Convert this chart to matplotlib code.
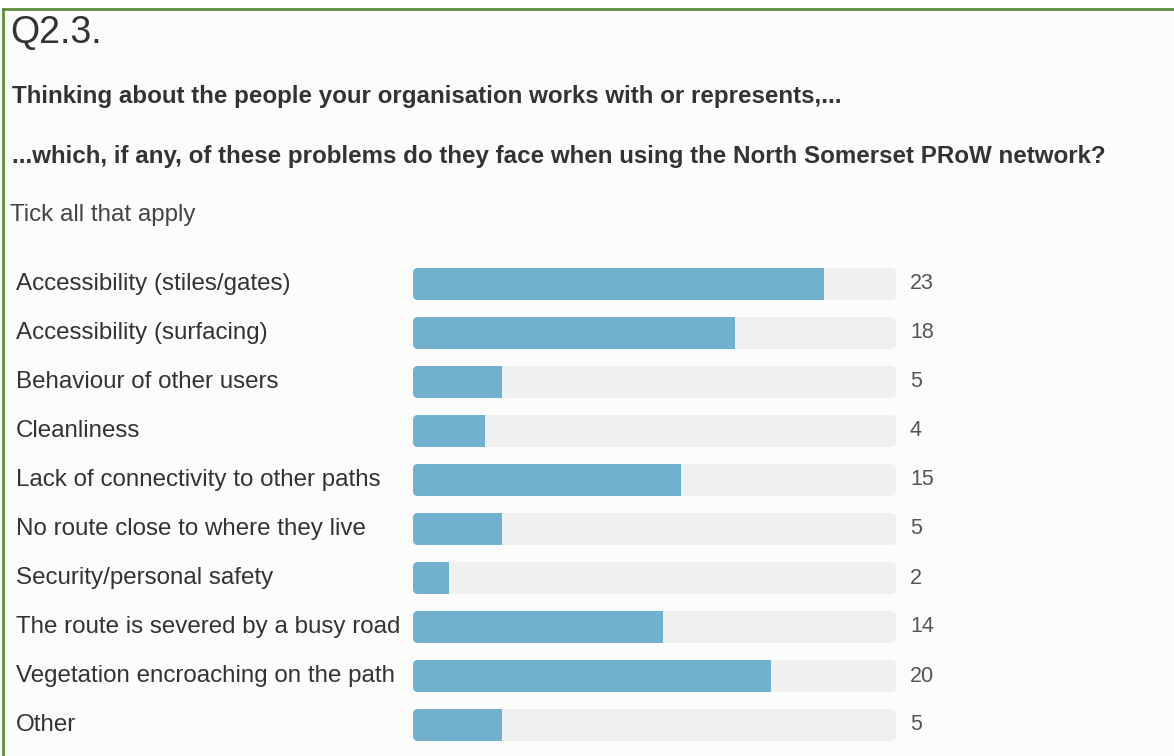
import numpy as np
import matplotlib
matplotlib.use("Agg")
import matplotlib.pyplot as plt
from matplotlib.patches import FancyBboxPatch, Rectangle
from matplotlib.lines import Line2D
import matplotlib.transforms as mtransforms

plt.rcParams['font.family'] = ['Liberation Sans', 'DejaVu Sans']

categories = ["Accessibility (stiles/gates)", "Accessibility (surfacing)",
              "Behaviour of other users", "Cleanliness",
              "Lack of connectivity to other paths",
              "No route close to where they live", "Security/personal safety",
              "The route is severed by a busy road",
              "Vegetation encroaching on the path", "Other"]
counts = [23, 18, 5, 4, 15, 5, 2, 14, 20, 5]
total = 27

title = "Q2.3."
question1 = "Thinking about the people your organisation works with or represents,..."
question2 = "...which, if any, of these problems do they face when using the North Somerset PRoW network?"
note = "Tick all that apply"

W, H = 1174, 756
fig = plt.figure(figsize=(W / 100, H / 100), dpi=100, facecolor="#fcfcfc")

# white strip above the frame and the green frame lines
fig.add_artist(Rectangle((0, 1 - 8 / H), 1, 8 / H, transform=fig.transFigure,
                         facecolor="white", edgecolor="none"))
fig.add_artist(Line2D([3 / W, 1], [1 - 8.5 / H, 1 - 8.5 / H], transform=fig.transFigure,
                      color="#5e8d3f", lw=2))
fig.add_artist(Line2D([3 / W, 3 / W], [0, 1 - 8.5 / H], transform=fig.transFigure,
                      color="#5e8d3f", lw=2))

fig.text(10 / W, 1 - 43 / H, title, fontsize=27, color="#333333", va="baseline")
fig.text(12 / W, 1 - 103 / H, question1, fontsize=17.4, fontweight="bold",
         color="#333333", va="baseline")
fig.text(12 / W, 1 - 163 / H, question2, fontsize=17.4, fontweight="bold",
         color="#333333", va="baseline")
fig.text(10 / W, 1 - 215 / H, note, fontsize=17.4, color="#444444", va="center")

# bar area
left, right = 413 / W, 896 / W
top_px, bot_px = 259.5, 749.5
ax = fig.add_axes([left, 1 - bot_px / H, right - left, (bot_px - top_px) / H])
ax.set_facecolor("none")
n = len(categories)
ax.set_xlim(0, total)
ax.set_ylim(n - 0.5, -0.5)
ax.axis("off")

bar_h = 32 / 49
aspect = (1 / 49) / (total / 483)
rad = 5 * total / 483
blended = mtransforms.blended_transform_factory(fig.transFigure, ax.transData)

for i, (cat, v) in enumerate(zip(categories, counts)):
    track = FancyBboxPatch((0, i - bar_h / 2), total, bar_h,
                           boxstyle=f"round,pad=0,rounding_size={rad}",
                           mutation_aspect=aspect, facecolor="#f0f0f0",
                           edgecolor="none")
    ax.add_patch(track)
    bar = FancyBboxPatch((0, i - bar_h / 2), total, bar_h,
                         boxstyle=f"round,pad=0,rounding_size={rad}",
                         mutation_aspect=aspect, facecolor="#72b0d0",
                         edgecolor="none")
    ax.add_patch(bar)
    clip = Rectangle((0, i - bar_h), v, 2 * bar_h, transform=ax.transData)
    bar.set_clip_path(clip)
    ax.text(16 / W, i, cat, transform=blended, fontsize=17.4, color="#333333",
            va="center", ha="left")
    ax.text(910 / W, i, str(v), transform=blended, fontsize=15.5, color="#555555",
            va="center", ha="left")

fig.savefig("out.png", dpi=100, facecolor=fig.get_facecolor())
